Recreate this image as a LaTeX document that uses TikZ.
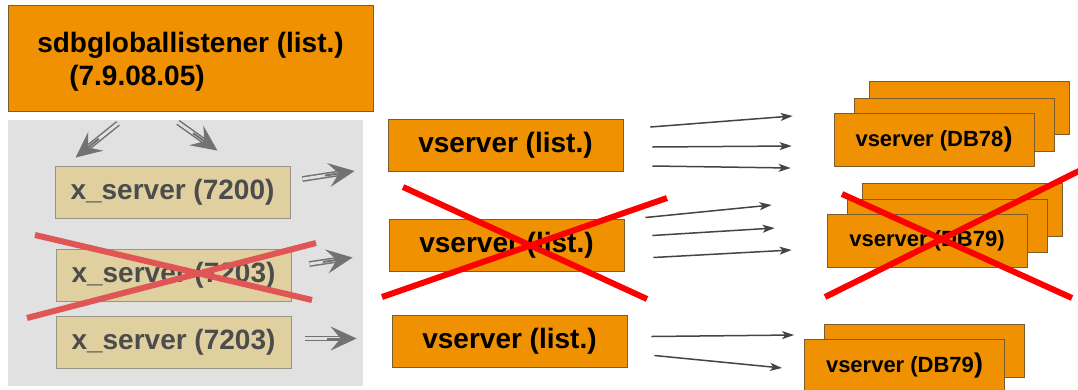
\documentclass[tikz,border=0pt]{standalone}
\usepackage{xcolor}
\usepackage{fontspec}
\setmainfont{Liberation Sans}
\usepackage{tikz}
\usetikzlibrary{arrows.meta, calc}
\definecolor{boxOrange}{HTML}{EF9100}
\definecolor{boxBorder}{HTML}{7A5C30}
\definecolor{tanFill}{HTML}{E0D0A0}
\definecolor{tanBorder}{HTML}{9A9488}
\definecolor{panelGray}{HTML}{E1E1E1}
\definecolor{arrowGray}{HTML}{727272}
\definecolor{darkArrow}{HTML}{444444}
\definecolor{softRed}{HTML}{E05555}
\definecolor{hardRed}{HTML}{FF0000}

\begin{document}
\begin{tikzpicture}[
    x=1pt, y=-1pt,
    block/.style={rectangle, draw=boxBorder, line width=0.8pt, fill=boxOrange, inner sep=0pt, align=center},
    listbox/.style={block, minimum width=235pt, minimum height=52pt, font=\fontsize{28}{32}\selectfont\bfseries},
    dbbox/.style={block, minimum width=200pt, minimum height=53pt, font=\fontsize{22}{26}\selectfont\bfseries},
    xbox/.style={rectangle, draw=tanBorder, line width=0.8pt, fill=tanFill, inner sep=0pt, minimum width=235pt, minimum height=52pt, text=black!70, font=\fontsize{28}{32}\selectfont\bfseries},
    dblline/.style={draw=arrowGray, line width=1.5pt, double=panelGray, double distance=2.8pt, shorten >=11pt},
    dblhead/.style={draw=arrowGray, line width=2pt, -{Stealth[length=26pt,width=24pt,inset=10pt,fill=arrowGray]}},
    arrow/.style={draw=darkArrow, line width=1.5pt, -{Stealth[length=12pt,width=8pt,inset=3pt]}},
    cross/.style={line width=6pt},
]
    \useasboundingbox (0,0) rectangle (1078,389);

    % Nodes
    \node[block, minimum width=365pt, minimum height=106pt] (top) at (190.5,58) {};
    \node[align=left, inner sep=0pt, font=\fontsize{28}{33}\selectfont\bfseries] (toptext) at (190.5,62) {sdbgloballistener (list.)\\\hspace*{32pt}(7.9.08.05)};
    \node[rectangle, fill=panelGray, minimum width=355pt, minimum height=266pt] (panel) at (185.5,253) {};
    \node[xbox] (xs1) at (172.5,192) {x\_server (7200)};
    \node[xbox] (xs2) at (173.5,275) {x\_server (7203)};
    \node[xbox] (xs3) at (173.5,342) {x\_server (7203)};
    \node[listbox] (vs1) at (505.5,145) {vserver (list.)};
    \node[listbox] (vs2) at (506.5,245) {vserver (list.)};
    \node[listbox] (vs3) at (509.5,341) {vserver (list.)};
    \node[dbbox] (dba3) at (969,108) {};
    \node[dbbox] (dba2) at (954,124.5) {};
    \node[dbbox] (dba) at (934,140) {vserver (DB78{\fontsize{27}{26}\selectfont)}};
    \node[dbbox] (dbb3) at (962,209.5) {};
    \node[dbbox] (dbb2) at (947,226) {};
    \node[dbbox] (dbb) at (927,241) {vserver (DB79)};
    \node[dbbox] (dbc2) at (924,351) {};
    \node[dbbox] (dbc) at (904.5,366) {vserver (DB79{\fontsize{27}{26}\selectfont)}};

    % Arrow ends
    \coordinate (ta1) at ([xshift=-72.5pt,yshift=-12pt]top.south);
    \coordinate (tb1) at ([xshift=-97pt,yshift=8pt]xs1.north);
    \coordinate (ta2) at ([xshift=-12.5pt,yshift=-11pt]top.south);
    \coordinate (tb2) at ([xshift=45pt,yshift=15pt]xs1.north);
    \coordinate (xa1) at ([xshift=12pt,yshift=13pt]xs1.east);
    \coordinate (xb1) at ([xshift=-33pt,yshift=-26pt]vs1.west);
    \coordinate (xa2) at ([xshift=18pt,yshift=11pt]xs2.east);
    \coordinate (xb2) at ([xshift=-36pt,yshift=-12.5pt]vs2.west);
    \coordinate (xa3) at ([xshift=14pt,yshift=3.5pt]xs3.east);
    \coordinate (xb3) at ([xshift=-35pt,yshift=2.5pt]vs3.west);

    % Arrows
    \foreach \a/\b in {ta1/tb1, ta2/tb2, xa1/xb1, xa2/xb2, xa3/xb3} {
        \draw[dblline] (\a) -- (\b);
        \draw[dblhead] ($(\b)!30pt!(\a)$) -- (\b);
    }

    \draw[arrow] ([xshift=27pt,yshift=18pt]vs1.east) -- ([xshift=-41pt,yshift=24pt]dba.west);
    \draw[arrow] ([xshift=29pt,yshift=-2pt]vs1.east) -- ([xshift=-42pt,yshift=-6pt]dba.west);
    \draw[arrow] ([xshift=29pt,yshift=-21pt]vs1.east) -- ([xshift=-43pt,yshift=-28pt]dba.west);
    \draw[arrow] ([xshift=21pt,yshift=27.5pt]vs2.east) -- ([xshift=-55pt,yshift=36pt]dbb.west);
    \draw[arrow] ([xshift=28pt,yshift=9.5pt]vs2.east) -- ([xshift=-52pt,yshift=13pt]dbb.west);
    \draw[arrow] ([xshift=29pt,yshift=-12.5pt]vs2.east) -- ([xshift=-35pt,yshift=-9pt]dbb.west);
    \draw[arrow] ([xshift=24pt,yshift=4.5pt]vs3.east) -- ([xshift=-10pt,yshift=31pt]dbc.west);
    \draw[arrow] ([xshift=27pt,yshift=-14.5pt]vs3.east) -- ([xshift=-22pt,yshift=-2pt]dbc.west);

    % Crosses
    \draw[cross, softRed] (35,235) -- (312,300) (27,318) -- (316,243);
    \draw[cross, hardRed] (403,187) -- (647,299) (382,297) -- (667,198);
    \draw[cross, hardRed] (842,194) -- (1072,298) (825,297) -- (1085,168);
\end{tikzpicture}
\end{document}
